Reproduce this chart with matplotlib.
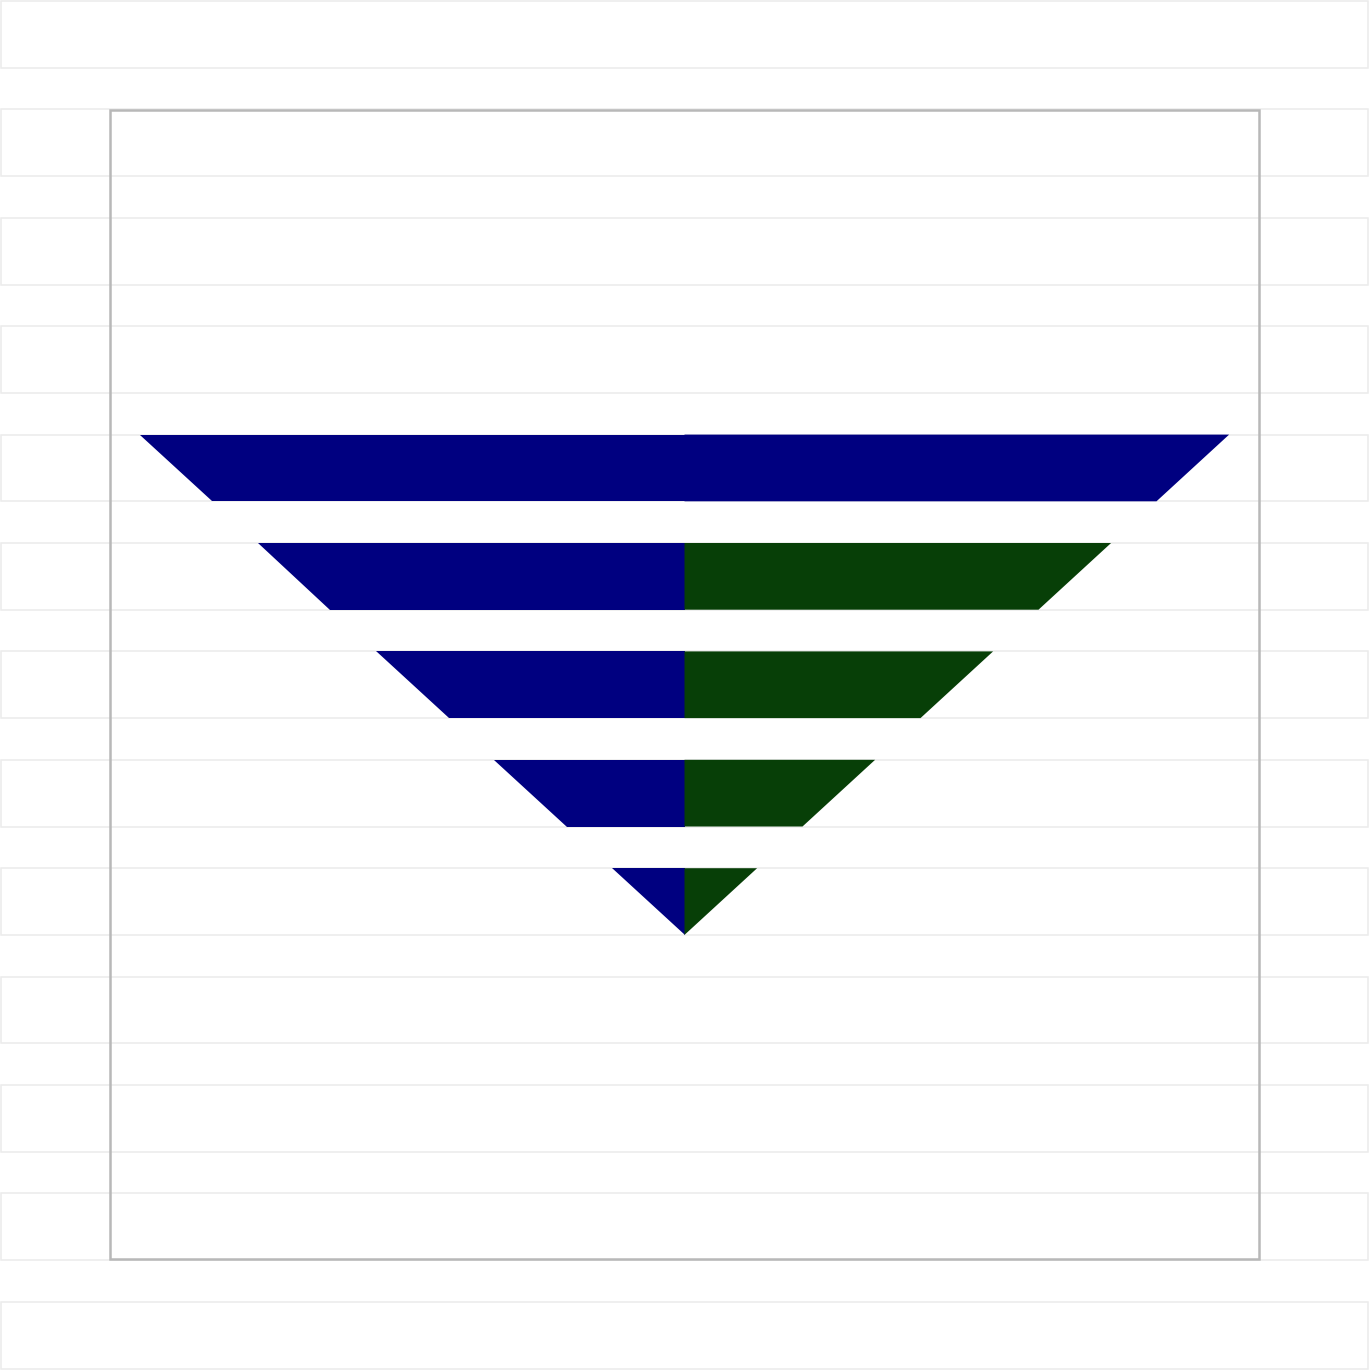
import matplotlib
matplotlib.use('Agg')
import matplotlib.pyplot as plt
from matplotlib.patches import Polygon, Rectangle

# Funnel stages (top to bottom); half-width in value units
left_values = [5, 4, 3, 2, 1]
right_values = [5, 4, 3, 2, 1]
left_colors = ['#000080', '#000080', '#000080', '#000080', '#000080']
right_colors = ['#000080', '#073f07', '#073f07', '#073f07', '#073f07']

n_bands = 13          # background stripes
first_stage_row = 4   # stripe where the funnel starts

# layout, in pixels
W, H = 1369, 1370
pitch = 108.4
band_h = 66.7
unit = 118.0
cx = 684.5
frac = band_h / pitch

fig = plt.figure(figsize=(W / 100, H / 100), dpi=100)
ax = fig.add_axes([0, 0, 1, 1])
ax.set_xlim(-cx / unit, (W - cx) / unit)
ax.set_ylim((H - 1) / pitch, -1 / pitch)
ax.axis('off')

x0, x1 = -cx / unit + 1 / unit, (W - cx - 1.5) / unit

# background stripes
for j in range(n_bands):
    ax.add_patch(Rectangle((x0, j), x1 - x0, frac, facecolor='white',
                           edgecolor='#ebebeb', linewidth=1.1, zorder=1))

# plot frame: from top of stripe 1 to bottom of stripe 11
fl = (110 - cx) / unit
fr = (1259 - cx) / unit
ft = (110 - 1) / pitch
fb = (1259 - 1) / pitch
ax.add_patch(Rectangle((fl, ft), fr - fl, fb - ft, facecolor='none',
                       edgecolor='#b8b8b8', linewidth=1.8, zorder=2))

# funnel halves
for i, (lv, rv) in enumerate(zip(left_values, right_values)):
    top = first_stage_row + i
    bot = top + frac
    lt, lb = lv - 1 + frac, lv - 1
    rt, rb = rv - 1 + frac, rv - 1
    ax.add_patch(Polygon([(-lt, top), (0, top), (0, bot), (-lb, bot)],
                         closed=True, facecolor=left_colors[i],
                         edgecolor='none', zorder=3))
    ax.add_patch(Polygon([(0, top), (rt, top), (rb, bot), (0, bot)],
                         closed=True, facecolor=right_colors[i],
                         edgecolor='none', zorder=3))

fig.savefig('out.png', dpi=100, facecolor='white')
